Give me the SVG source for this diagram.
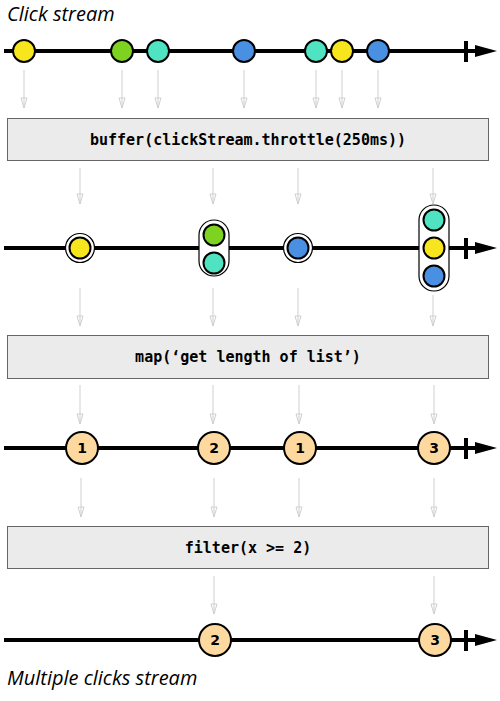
<svg xmlns="http://www.w3.org/2000/svg" width="500" height="701" viewBox="0 0 500 701">
<defs>
<style>
.title{font-family:"Open Sans","DejaVu Sans",sans-serif;font-style:italic;font-size:20px;fill:#000}
.tl{stroke:#000;stroke-width:4;fill:none}
.tk{stroke:#000;stroke-width:4}
.ah{fill:#000}
.conn{stroke:#cfcfcf;stroke-width:1;fill:none;marker-end:url(#open)}
.box{fill:#ebebeb;stroke:#666;stroke-width:1}
.op{font-family:"DejaVu Sans Mono","Liberation Mono",monospace;font-weight:bold;font-size:15px;fill:#000;text-anchor:middle}
.m{stroke:#000;stroke-width:2}
.y{fill:#f7e51e}.g{fill:#7ed321}.t{fill:#50e3c2}.b{fill:#4a90e2}.o{fill:#fdd9a0}
.ring{fill:#fff;stroke:#000;stroke-width:1.2}
.num{font-family:"DejaVu Sans","Noto Sans",sans-serif;font-weight:bold;font-size:14px;fill:#000;text-anchor:middle}
</style>
<marker id="open" viewBox="0 0 12 8" refX="11" refY="4" markerWidth="12" markerHeight="8" markerUnits="userSpaceOnUse" orient="auto">
<path d="M1,1 L11,4 L1,7 Z" fill="none" stroke="#cfcfcf" stroke-width="1"/>
</marker>
</defs>
<rect width="500" height="701" fill="#fff"/>

<text class="title" x="7" y="21">Click stream</text>
<text class="title" x="7" y="685">Multiple clicks stream</text>

<g id="connectors">
<line class="conn" x1="24" y1="70" x2="24" y2="108"/>
<line class="conn" x1="122" y1="70" x2="122" y2="108"/>
<line class="conn" x1="158" y1="70" x2="158" y2="108"/>
<line class="conn" x1="244" y1="70" x2="244" y2="108"/>
<line class="conn" x1="316" y1="70" x2="316" y2="108"/>
<line class="conn" x1="342" y1="70" x2="342" y2="108"/>
<line class="conn" x1="378" y1="70" x2="378" y2="108"/>

<line class="conn" x1="80" y1="168" x2="80" y2="204"/>
<line class="conn" x1="213" y1="168" x2="213" y2="204"/>
<line class="conn" x1="298" y1="168" x2="298" y2="204"/>
<line class="conn" x1="433" y1="168" x2="433" y2="204"/>

<line class="conn" x1="80" y1="288" x2="80" y2="326"/>
<line class="conn" x1="213" y1="288" x2="213" y2="326"/>
<line class="conn" x1="298" y1="288" x2="298" y2="326"/>
<line class="conn" x1="433" y1="295" x2="433" y2="326"/>

<line class="conn" x1="80" y1="385" x2="80" y2="424"/>
<line class="conn" x1="213" y1="385" x2="213" y2="424"/>
<line class="conn" x1="299" y1="385" x2="299" y2="424"/>
<line class="conn" x1="434" y1="385" x2="434" y2="424"/>

<line class="conn" x1="81" y1="478" x2="81" y2="517"/>
<line class="conn" x1="214" y1="478" x2="214" y2="517"/>
<line class="conn" x1="299" y1="478" x2="299" y2="517"/>
<line class="conn" x1="434" y1="478" x2="434" y2="517"/>

<line class="conn" x1="214" y1="576" x2="214" y2="614"/>
<line class="conn" x1="434" y1="576" x2="434" y2="614"/>
</g>

<g id="timeline-clicks">
<line class="tl" x1="4" y1="51" x2="480" y2="51"/>
<line class="tk" x1="466" y1="41" x2="466" y2="62"/>
<polygon class="ah" points="475,45 497,51 475,57"/>
</g>
<g id="click-1"><circle class="m y" cx="24" cy="51" r="11"/></g>
<g id="click-2"><circle class="m g" cx="122" cy="51" r="11"/></g>
<g id="click-3"><circle class="m t" cx="158" cy="51" r="11"/></g>
<g id="click-4"><circle class="m b" cx="244" cy="51" r="11"/></g>
<g id="click-5"><circle class="m t" cx="316" cy="51" r="11"/></g>
<g id="click-6"><circle class="m y" cx="342" cy="51" r="11"/></g>
<g id="click-7"><circle class="m b" cx="378" cy="51" r="11"/></g>

<g id="op-buffer">
<rect class="box" x="7.5" y="118.5" width="481" height="42"/>
<text class="op" x="248" y="145">buffer(clickStream.throttle(250ms))</text>
</g>

<g id="timeline-buffered">
<line class="tl" x1="4" y1="248" x2="480" y2="248"/>
<line class="tk" x1="466" y1="238" x2="466" y2="259"/>
<polygon class="ah" points="475,242 497,248 475,254"/>
</g>
<g id="list-1">
<circle class="ring" cx="80" cy="248" r="14.5"/>
<circle class="m y" cx="80" cy="248" r="10.5"/>
</g>
<g id="list-2">
<rect class="ring" x="199" y="220" width="30" height="56" rx="15"/>
<circle class="m g" cx="214" cy="235" r="10.5"/>
<circle class="m t" cx="214" cy="263" r="10.5"/>
</g>
<g id="list-3">
<circle class="ring" cx="298" cy="248" r="14.5"/>
<circle class="m b" cx="298" cy="248" r="10.5"/>
</g>
<g id="list-4">
<rect class="ring" x="419" y="205" width="30" height="86" rx="15"/>
<circle class="m t" cx="434" cy="220" r="10.5"/>
<circle class="m y" cx="434" cy="248" r="10.5"/>
<circle class="m b" cx="434" cy="276" r="10.5"/>
</g>

<g id="op-map">
<rect class="box" x="7.5" y="335.5" width="481" height="43"/>
<text class="op" x="248" y="362">map(‘get length of list’)</text>
</g>

<g id="timeline-lengths">
<line class="tl" x1="4" y1="448" x2="480" y2="448"/>
<line class="tk" x1="466" y1="438" x2="466" y2="459"/>
<polygon class="ah" points="475,442 497,448 475,454"/>
</g>
<g id="len-1"><circle class="m o" cx="82" cy="448" r="16"/><text class="num" x="82" y="453">1</text></g>
<g id="len-2"><circle class="m o" cx="214" cy="448" r="16"/><text class="num" x="214" y="453">2</text></g>
<g id="len-3"><circle class="m o" cx="300" cy="448" r="16"/><text class="num" x="300" y="453">1</text></g>
<g id="len-4"><circle class="m o" cx="434" cy="448" r="16"/><text class="num" x="434" y="453">3</text></g>

<g id="op-filter">
<rect class="box" x="7.5" y="526.5" width="481" height="42"/>
<text class="op" x="248" y="553">filter(x &gt;= 2)</text>
</g>

<g id="timeline-multi">
<line class="tl" x1="4" y1="640" x2="480" y2="640"/>
<line class="tk" x1="466" y1="630" x2="466" y2="651"/>
<polygon class="ah" points="475,634 497,640 475,646"/>
</g>
<g id="multi-1"><circle class="m o" cx="215" cy="640" r="16"/><text class="num" x="215" y="645">2</text></g>
<g id="multi-2"><circle class="m o" cx="435" cy="640" r="16"/><text class="num" x="435" y="645">3</text></g>
</svg>
